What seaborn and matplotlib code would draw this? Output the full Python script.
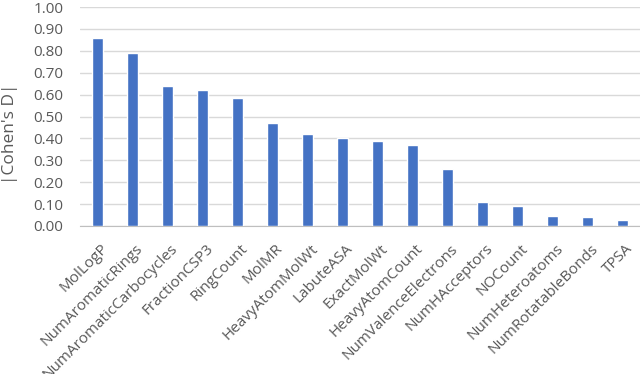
import pandas as pd
import seaborn as sns
import matplotlib.pyplot as plt
from matplotlib.transforms import ScaledTranslation

# -----------------------------
# Data
# -----------------------------
descriptors = ['MolLogP', 'NumAromaticRings', 'NumAromaticCarbocycles', 'FractionCSP3',
               'RingCount', 'MolMR', 'HeavyAtomMolWt', 'LabuteASA', 'ExactMolWt',
               'HeavyAtomCount', 'NumValenceElectrons', 'NumHAcceptors', 'NOCount',
               'NumHeteroatoms', 'NumRotatableBonds', 'TPSA']
cohens_d = [0.86, 0.79, 0.64, 0.62, 0.585, 0.47, 0.42, 0.40, 0.39,
            0.37, 0.26, 0.11, 0.09, 0.045, 0.04, 0.025]

df = pd.DataFrame({'Descriptor': descriptors, 'D': cohens_d})

# -----------------------------
# Plot
# -----------------------------
sns.set_style('white')
plt.rcParams['font.family'] = ['Open Sans', 'DejaVu Sans']

fig = plt.figure(figsize=(6.4, 3.74), dpi=100)
ax = fig.add_axes([0.125, 0.396, 0.875, 0.585])

sns.barplot(x='Descriptor', y='D', data=df, color='#4472C4', width=0.31,
            saturation=1, ax=ax, zorder=3)

ax.set_ylim(0, 1.0)
ax.set_yticks([i / 10 for i in range(11)])
ax.set_yticklabels([f'{i / 10:.2f}' for i in range(11)])
ax.set_xlim(-0.5, len(descriptors) - 0.5)
ax.grid(axis='y', color='#D9D9D9', linewidth=1, zorder=0)

for side in ['top', 'right', 'left']:
    ax.spines[side].set_visible(False)
ax.spines['bottom'].set_color('#BFBFBF')

ax.tick_params(axis='both', length=0, colors='#595959', labelsize=11)
ax.tick_params(axis='y', pad=12)
ax.tick_params(axis='x', pad=11)
shift = ScaledTranslation(3 / 100, 0, fig.dpi_scale_trans)
for lbl in ax.get_xticklabels():
    lbl.set_rotation(45)
    lbl.set_ha('right')
    lbl.set_va('top')
    lbl.set_rotation_mode('anchor')
    lbl.set_transform(lbl.get_transform() + shift)

ax.set_xlabel('')
ax.set_ylabel("|Cohen's D|", color='#595959', fontsize=12.5)
ax.yaxis.set_label_coords(-0.111, 0.42)

plt.savefig('out.png', dpi=100)
